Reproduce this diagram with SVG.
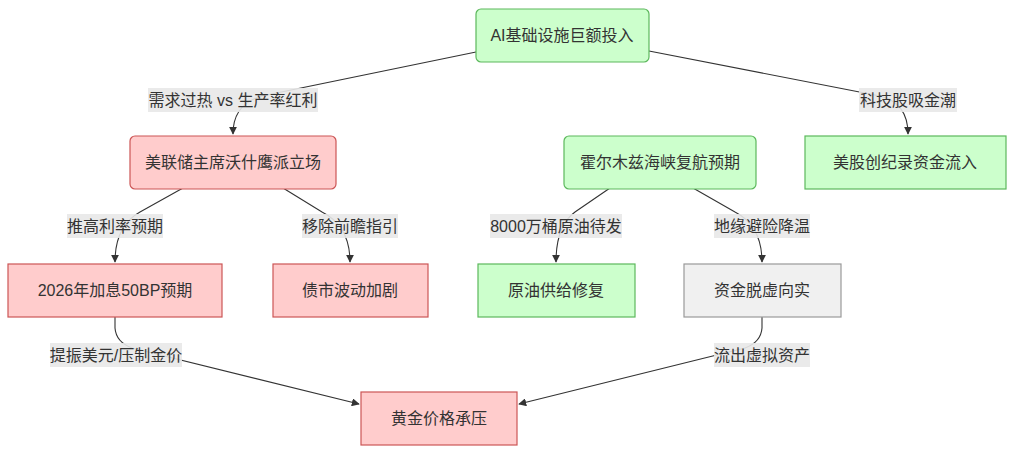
<svg xmlns="http://www.w3.org/2000/svg" width="1017" height="454" viewBox="0 0 1017 454">
<style>
text{font-family:"Liberation Sans","Noto Sans CJK SC",sans-serif;font-size:16px;fill:#333;text-anchor:middle;dominant-baseline:central}
.g{fill:#ccffcc;stroke:#5cb85c;stroke-width:1.2}
.r{fill:#ffcccc;stroke:#cc5555;stroke-width:1.2}
.y{fill:#f0f0f0;stroke:#999;stroke-width:1.2}
.e{fill:none;stroke:#333;stroke-width:1.1;marker-end:url(#a)}
.lb{fill:#e8e8e8;opacity:0.9}
</style>
<defs>
<marker id="a" viewBox="0 0 10 10" refX="9" refY="5" markerWidth="8" markerHeight="8" markerUnits="userSpaceOnUse" orient="auto">
<path d="M0,0 L10,5 L0,10 z" fill="#333"/>
</marker>
</defs>
<rect width="1017" height="454" fill="#fff"/>
<g id="connectors">
<path class="e" d="M476,52 L262,96 Q233,104 233,134"/>
<path class="e" d="M649,51 L880,96 Q908,103 908,134"/>
<path class="e" d="M183,188 L140,212 Q115,226 115,262"/>
<path class="e" d="M283,188 L322,212 Q350,226 350,262"/>
<path class="e" d="M610,188 L575,212 Q556,226 556,262"/>
<path class="e" d="M693,188 L735,212 Q762,226 762,262"/>
<path class="e" d="M115,316 L115,328 Q116,342 132,348 L359,404"/>
<path class="e" d="M762,316 L762,328 Q761,342 745,348 L519,404"/>
</g>
<g id="edge-labels">
<rect class="lb" x="148" y="88" width="170" height="24"/><text x="233" y="100">需求过热 vs 生产率红利</text>
<rect class="lb" x="859" y="88" width="98" height="24"/><text x="908" y="100">科技股吸金潮</text>
<rect class="lb" x="67" y="214" width="96" height="24"/><text x="115" y="226">推高利率预期</text>
<rect class="lb" x="302" y="214" width="96" height="24"/><text x="350" y="226">移除前瞻指引</text>
<rect class="lb" x="490" y="214" width="132" height="24"/><text x="556" y="226">8000万桶原油待发</text>
<rect class="lb" x="714" y="214" width="96" height="24"/><text x="762" y="226">地缘避险降温</text>
<rect class="lb" x="50" y="343" width="132" height="24"/><text x="116" y="355">提振美元/压制金价</text>
<rect class="lb" x="714" y="343" width="96" height="24"/><text x="762" y="355">流出虚拟资产</text>
</g>
<g id="n-ai"><rect class="g" x="476" y="9" width="173" height="53" rx="5"/><text x="562" y="35">AI基础设施巨额投入</text></g>
<g id="n-fed"><rect class="r" x="130" y="136" width="206" height="53" rx="5"/><text x="233" y="162">美联储主席沃什鹰派立场</text></g>
<g id="n-hormuz"><rect class="g" x="564" y="136" width="192" height="53" rx="5"/><text x="660" y="162">霍尔木兹海峡复航预期</text></g>
<g id="n-stocks"><rect class="g" x="805" y="136" width="201" height="53"/><text x="905" y="162">美股创纪录资金流入</text></g>
<g id="n-rate"><rect class="r" x="8" y="264" width="214" height="53"/><text x="115" y="290">2026年加息50BP预期</text></g>
<g id="n-bond"><rect class="r" x="273" y="264" width="155" height="53"/><text x="350" y="290">债市波动加剧</text></g>
<g id="n-oil"><rect class="g" x="478" y="264" width="157" height="53"/><text x="556" y="290">原油供给修复</text></g>
<g id="n-capital"><rect class="y" x="684" y="264" width="157" height="53"/><text x="762" y="290">资金脱虚向实</text></g>
<g id="n-gold"><rect class="r" x="361" y="392" width="156" height="53"/><text x="439" y="418">黄金价格承压</text></g>
</svg>
